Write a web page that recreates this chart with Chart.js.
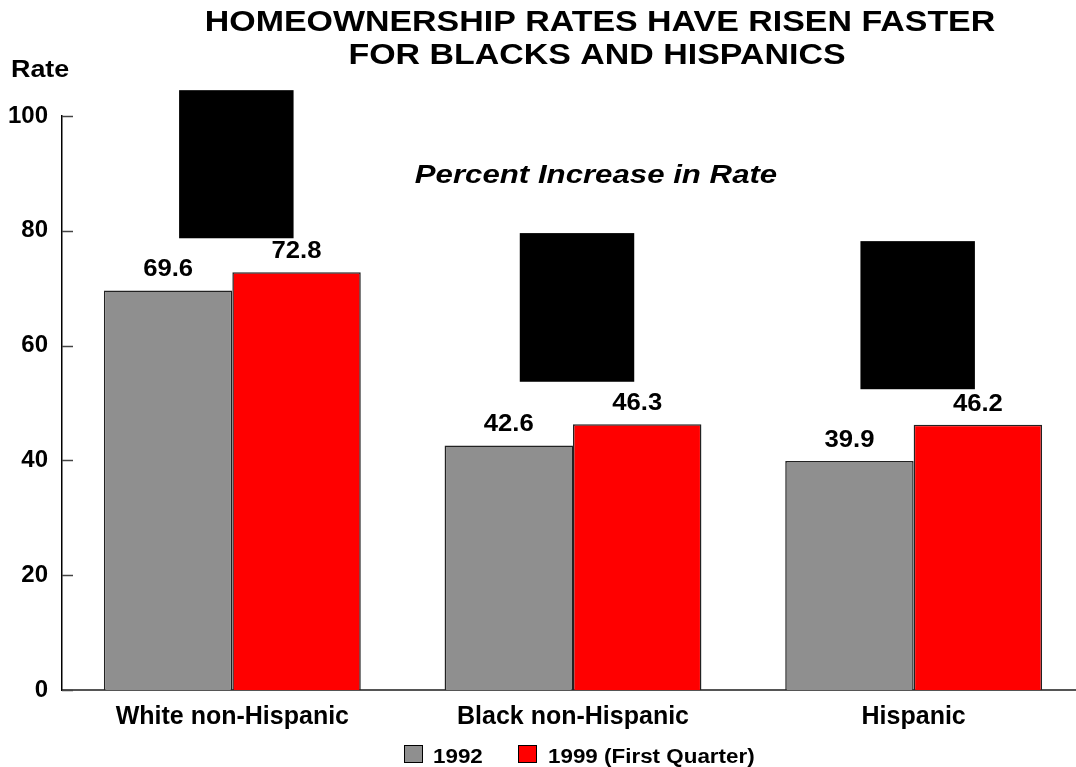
<!DOCTYPE html>
<html>
<head>
<meta charset="utf-8">
<script src="https://cdn.jsdelivr.net/npm/chart.js@4"></script>
<style>
  html, body { margin: 0; padding: 0; background: #fff; overflow: hidden; }
  #wrap { width: 1086px; height: 767px; }
</style>
</head>
<body>
<div id="wrap"><canvas id="chart" width="1086" height="767"></canvas></div>
<script>
// ---- data ----
const categories = ["White non-Hispanic", "Black non-Hispanic", "Hispanic"];
const seriesNames = ["1992", "1999 (First Quarter)"];
const rate1992 = [69.6, 42.6, 39.9];
const rate1999 = [72.8, 46.3, 46.2];
// redacted "percent increase" boxes, in rate units
const increaseBoxLow = [78.7, 53.7, 52.4];
const increaseBoxHigh = [104.5, 79.6, 78.2];
const yTickValues = [0, 20, 40, 60, 80, 100];

const FONT = "'Liberation Sans', Arial, sans-serif";
const GRAY = "#8f8f8f";
const RED = "#ff0000";

// text with a horizontal stretch, like the original artwork
function stretchedText(ctx, text, x, y, font, align, sx) {
  ctx.save();
  ctx.font = font;
  ctx.fillStyle = "#000";
  ctx.textBaseline = "alphabetic";
  const w = ctx.measureText(text).width * sx;
  let left = x;
  if (align === "center") left = x - w / 2;
  else if (align === "right") left = x - w;
  ctx.translate(left, y);
  ctx.scale(sx, 1);
  ctx.textAlign = "left";
  ctx.fillText(text, 0, 0);
  ctx.restore();
}

const decorations = {
  id: "decorations",
  afterDatasetsDraw(chart) {
    const ctx = chart.ctx;
    const x = chart.scales.x, y = chart.scales.y;

    // inward tick marks on the y axis
    ctx.save();
    ctx.strokeStyle = "#444";
    ctx.lineWidth = 1.5;
    yTickValues.forEach((v) => {
      const py = Math.round(y.getPixelForValue(v)) + 0.5;
      ctx.beginPath();
      ctx.moveTo(x.left, py);
      ctx.lineTo(x.left + 11, py);
      ctx.stroke();
    });
    ctx.restore();

    // value labels above bars
    [rate1992, rate1999].forEach((vals, di) => {
      const meta = chart.getDatasetMeta(di);
      meta.data.forEach((bar, i) => {
        stretchedText(ctx, vals[i].toFixed(1), bar.x, bar.y - 14,
          "bold 24px " + FONT, "center", 1.07);
      });
    });

    // black boxes (percent increase, blacked out)
    const catW = (x.right - x.left) / categories.length;
    ctx.save();
    ctx.fillStyle = "#000";
    categories.forEach((c, i) => {
      const cx = x.getPixelForValue(i) + 4;
      const top = y.getPixelForValue(increaseBoxHigh[i]);
      const bot = y.getPixelForValue(increaseBoxLow[i]);
      const w = catW * 0.336;
      ctx.fillRect(cx - w / 2, top, w, bot - top);
    });
    ctx.restore();
  },
  afterDraw(chart) {
    const ctx = chart.ctx;
    // title
    stretchedText(ctx, "HOMEOWNERSHIP RATES HAVE RISEN FASTER", 600, 31, "bold 29px " + FONT, "center", 1.17);
    stretchedText(ctx, "FOR BLACKS AND HISPANICS", 597, 64, "bold 29px " + FONT, "center", 1.17);
    // y-axis title
    stretchedText(ctx, "Rate", 11, 77, "bold 24px " + FONT, "left", 1.12);
    // subtitle over the boxes
    stretchedText(ctx, "Percent Increase in Rate", 596, 183, "italic bold 26px " + FONT, "center", 1.2);

    // legend
    const items = [
      { name: seriesNames[0], color: GRAY, box: 404, text: 433 },
      { name: seriesNames[1], color: RED, box: 518, text: 548 },
    ];
    items.forEach((it) => {
      ctx.save();
      ctx.fillStyle = it.color;
      ctx.fillRect(it.box, 745, 19, 18);
      ctx.strokeStyle = "#000";
      ctx.lineWidth = 1;
      ctx.strokeRect(it.box + 0.5, 745.5, 18, 17);
      ctx.restore();
      stretchedText(ctx, it.name, it.text, 763, "bold 20px " + FONT, "left", 1.12);
    });
  },
};

new Chart(document.getElementById("chart"), {
  type: "bar",
  data: {
    labels: categories,
    datasets: [
      { label: seriesNames[0], data: rate1992, backgroundColor: GRAY,
        borderColor: "#222", borderWidth: 1.5 },
      { label: seriesNames[1], data: rate1999, backgroundColor: RED,
        borderColor: "#222", borderWidth: 1.5 },
    ],
  },
  options: {
    responsive: false, animation: false,
    devicePixelRatio: 1,
    layout: { padding: { top: 116, left: 0, right: 2, bottom: 0 } },
    datasets: { bar: { categoryPercentage: 0.754, barPercentage: 1.0 } },
    plugins: { legend: { display: false }, tooltip: { enabled: false }, title: { display: false } },
    scales: {
      x: {
        grid: { display: false, drawTicks: false },
        border: { display: true, color: "#555", width: 2 },
        ticks: { color: "#000", padding: 12, font: { family: FONT, size: 25, weight: "bold" } },
        afterFit: (s) => { s.height = 77; },
      },
      y: {
        min: 0, max: 100,
        grid: { display: false, drawTicks: false },
        border: { display: true, color: "#000", width: 1.5 },
        ticks: { stepSize: 20, color: "#000", padding: 14,
                 font: { family: FONT, size: 24, weight: "bold" } },
        afterFit: (s) => { s.width = 62; },
      },
    },
  },
  plugins: [decorations],
});
</script>
</body>
</html>
